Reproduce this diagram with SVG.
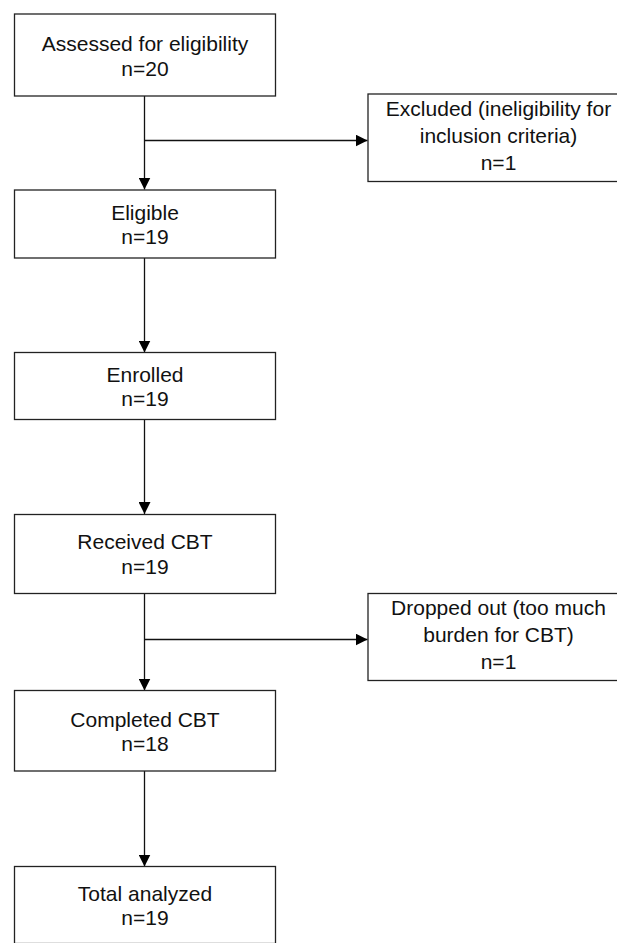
<svg xmlns="http://www.w3.org/2000/svg" width="617" height="943" viewBox="0 0 617 943">
<defs>
<marker id="arr" viewBox="0 0 12 12" refX="12" refY="6" markerWidth="12" markerHeight="12" markerUnits="userSpaceOnUse" orient="auto">
<path d="M0,0 L12,6 L0,12 Z" fill="#000"/>
</marker>
<style>
.box{fill:#fff;stroke:#222;stroke-width:1.3}
.t{font-family:"Liberation Sans",Arial,sans-serif;font-size:21px;fill:#111;text-anchor:middle}
.c{fill:none;stroke:#111;stroke-width:1.3}
</style>
</defs>
<rect width="617" height="943" fill="#fff"/>
<g id="connectors">
<path class="c" d="M144.5,96 V189.5" marker-end="url(#arr)"/>
<path class="c" d="M144.5,140.5 H367.5" marker-end="url(#arr)"/>
<path class="c" d="M144.5,258 V352.5" marker-end="url(#arr)"/>
<path class="c" d="M144.5,419.5 V514" marker-end="url(#arr)"/>
<path class="c" d="M144.5,593.5 V690.5" marker-end="url(#arr)"/>
<path class="c" d="M144.5,639.5 H367.5" marker-end="url(#arr)"/>
<path class="c" d="M144.5,771 V866.5" marker-end="url(#arr)"/>
</g>
<g id="n1">
<rect class="box" x="14.5" y="14" width="261" height="82"/>
<text class="t" x="145" y="51">Assessed for eligibility</text>
<text class="t" x="145" y="76">n=20</text>
</g>
<g id="n_excluded">
<rect class="box" x="368" y="94" width="261" height="87.5"/>
<text class="t" x="498.5" y="116">Excluded (ineligibility for</text>
<text class="t" x="498.5" y="143">inclusion criteria)</text>
<text class="t" x="498.5" y="170">n=1</text>
</g>
<g id="n2">
<rect class="box" x="14.5" y="190" width="261" height="68"/>
<text class="t" x="145" y="220">Eligible</text>
<text class="t" x="145" y="244">n=19</text>
</g>
<g id="n3">
<rect class="box" x="14.5" y="352.5" width="261" height="67"/>
<text class="t" x="145" y="382">Enrolled</text>
<text class="t" x="145" y="406">n=19</text>
</g>
<g id="n4">
<rect class="box" x="14.5" y="514.5" width="261" height="79"/>
<text class="t" x="145" y="548.5">Received CBT</text>
<text class="t" x="145" y="573.5">n=19</text>
</g>
<g id="n_dropped">
<rect class="box" x="368" y="593.5" width="261" height="87"/>
<text class="t" x="498.5" y="615">Dropped out (too much</text>
<text class="t" x="498.5" y="642">burden for CBT)</text>
<text class="t" x="498.5" y="669">n=1</text>
</g>
<g id="n5">
<rect class="box" x="14.5" y="690.5" width="261" height="80.5"/>
<text class="t" x="145" y="727">Completed CBT</text>
<text class="t" x="145" y="751">n=18</text>
</g>
<g id="n6">
<rect class="box" x="14.5" y="866.5" width="261" height="77"/>
<text class="t" x="145" y="901">Total analyzed</text>
<text class="t" x="145" y="925">n=19</text>
</g>
</svg>
